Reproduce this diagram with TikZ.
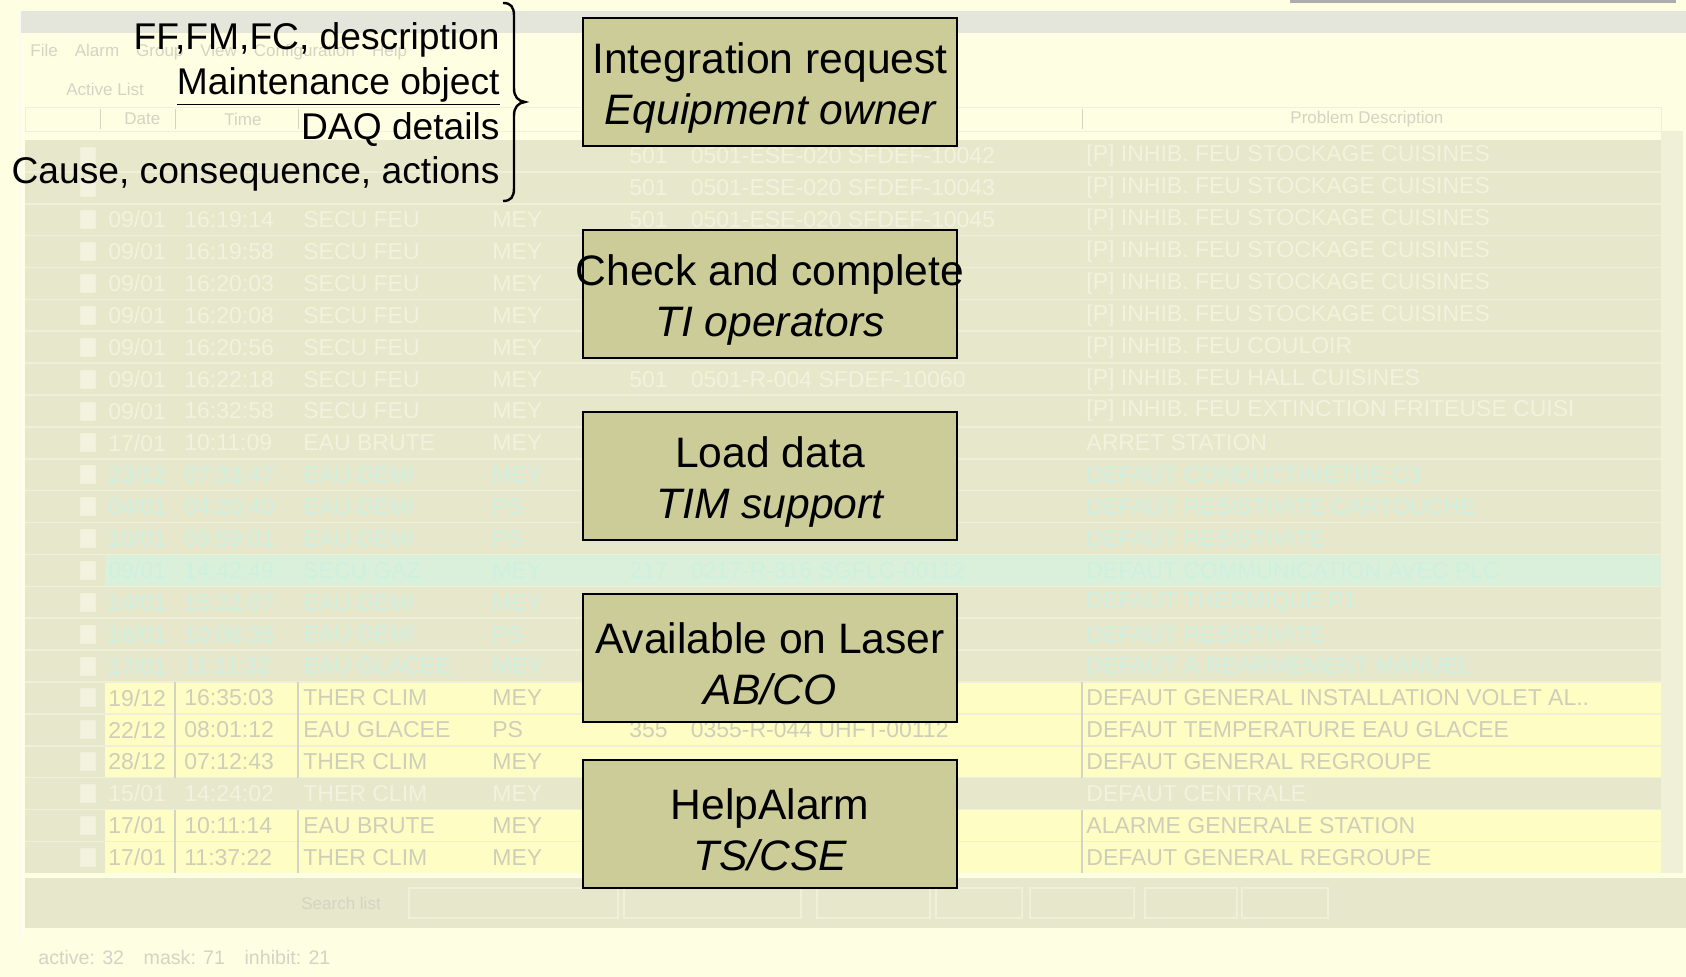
\documentclass[tikz,border=0pt]{standalone}
\usepackage{fontspec}
\setmainfont{Liberation Sans}
\definecolor{pagebg}{RGB}{254,254,226}
\definecolor{tablebg}{RGB}{231,231,204}
\definecolor{titlebg}{RGB}{228,230,220}
\definecolor{rowsep}{RGB}{240,240,216}
\definecolor{rowyellow}{RGB}{254,254,196}
\definecolor{rowcyan}{RGB}{218,240,218}
\definecolor{boxfill}{RGB}{204,204,153}
\definecolor{txtpale}{RGB}{242,242,222}
\definecolor{txtcyan}{RGB}{206,240,224}
\definecolor{txtgray}{RGB}{206,206,186}
\definecolor{faint}{RGB}{212,212,196}
\newcommand\bgfont{\fontsize{11.5}{13}\selectfont}
\newcommand\uifont{\fontsize{8.5}{10}\selectfont}
\newcommand\statfont{\fontsize{9.8}{11}\selectfont}
\newcommand\boxfont{\fontsize{21.3}{25.3}\selectfont}
\newcommand\sidefont{\fontsize{18.6}{22.4}\selectfont}
\newcommand\topstrut{\rule{0pt}{21.5pt}}
% row: index, date, time, system, site, num+code, description, colour
\newcommand\arow[8]{%
  \pgfmathsetmacro\ry{124.06+#1*31.88}%
  \node[bgtxt,text=#8] (r#1a) at (108,\ry) {#2};
  \node[bgtxt,text=#8] (r#1b) at (184,\ry) {#3};
  \node[bgtxt,text=#8] (r#1c) at (303,\ry) {#4};
  \node[bgtxt,text=#8] (r#1d) at (492,\ry) {#5};
  \node[bgtxt,text=#8] (r#1e) at (629,\ry) {#6};
  \node[bgtxt,text=#8] (r#1f) at (1086,\ry) {#7};
}
\begin{document}
\begin{tikzpicture}[x=0.5pt,y=-0.5pt,
  bgtxt/.style={anchor=west,inner sep=0pt,font=\bgfont},
  uitxt/.style={anchor=west,inner sep=0pt,font=\uifont,text=faint},
  stepbox/.style={draw=black,line width=1.2pt,fill=boxfill,minimum width=187pt,
    minimum height=64pt,inner sep=0pt,align=center,font=\boxfont},
  sidetext/.style={anchor=east,align=right,inner sep=0pt,font=\sidefont}]
\useasboundingbox (0,0) rectangle (1686,977);
% ---------- faded screenshot background ----------
\fill[pagebg] (0,0) rectangle (1686,977);
\fill[black!32] (1290,0) rectangle (1676,3);
\fill[titlebg] (20,11) rectangle (1686,33);
\draw[rowsep!80!black!10] (20,11) -- (20,940);
\node[uitxt] (menu) at (30,52) {File\quad Alarm\quad Group\quad View\quad Configuration\quad Help};
\node[uitxt] (tab) at (66,89) {Active List};
\draw[rowsep] (25,107) rectangle (1661,131);
\foreach \hx in {100,175,298,1082} {\draw[faint] (\hx,109) -- (\hx,129);}
\node[uitxt] (hdate) at (124,119) {Date};
\node[uitxt] (htime) at (224,119) {Time};
\node[uitxt] (hdesc) at (1290,119) {Problem Description};
% table body
\fill[tablebg] (25,140) rectangle (1661,873);
\fill[rowcyan] (105,554.4) rectangle (1661,586.3);
\fill[rowyellow] (105,682) rectangle (1661,777.6);
\fill[rowyellow] (105,809.5) rectangle (1661,873);
\foreach \i in {1,...,22} {
  \pgfmathsetmacro\rb{140+\i*31.88}
  \draw[rowsep,line width=0.8pt] (25,\rb) -- (1661,\rb);
}
\foreach \i in {1,...,23} {
  \pgfmathsetmacro\rc{124.06+\i*31.88}
  \draw[fill=txtpale,draw=rowsep] (80,\rc-9) rectangle (95,\rc+9);
}
\foreach \hx in {175,298,1082} {
  \draw[faint,line width=0.6pt] (\hx,682) -- (\hx,777.6);
  \draw[faint,line width=0.6pt] (\hx,809.5) -- (\hx,873);
}
\fill[rowsep] (1661,131) rectangle (1683,873);
\arow{1}{}{}{}{}{501\quad 0501-ESE-020 SFDEF-10042}{[P] INHIB. FEU STOCKAGE CUISINES}{txtpale}
\arow{2}{}{}{}{}{501\quad 0501-ESE-020 SFDEF-10043}{[P] INHIB. FEU STOCKAGE CUISINES}{txtpale}
\arow{3}{09/01}{16:19:14}{SECU FEU}{MEY}{501\quad 0501-ESE-020 SFDEF-10045}{[P] INHIB. FEU STOCKAGE CUISINES}{txtpale}
\arow{4}{09/01}{16:19:58}{SECU FEU}{MEY}{}{[P] INHIB. FEU STOCKAGE CUISINES}{txtpale}
\arow{5}{09/01}{16:20:03}{SECU FEU}{MEY}{}{[P] INHIB. FEU STOCKAGE CUISINES}{txtpale}
\arow{6}{09/01}{16:20:08}{SECU FEU}{MEY}{}{[P] INHIB. FEU STOCKAGE CUISINES}{txtpale}
\arow{7}{09/01}{16:20:56}{SECU FEU}{MEY}{}{[P] INHIB. FEU COULOIR}{txtpale}
\arow{8}{09/01}{16:22:18}{SECU FEU}{MEY}{501\quad 0501-R-004 SFDEF-10060}{[P] INHIB. FEU HALL CUISINES}{txtpale}
\arow{9}{09/01}{16:32:58}{SECU FEU}{MEY}{}{[P] INHIB. FEU EXTINCTION FRITEUSE CUISI}{txtpale}
\arow{10}{17/01}{10:11:09}{EAU BRUTE}{MEY}{}{ARRET STATION}{txtpale}
\arow{11}{23/12}{07:33:47}{EAU DEMI}{MEY}{}{DEFAUT CONDUCTIMETRE C3}{txtcyan}
\arow{12}{04/01}{04:20:40}{EAU DEMI}{PS}{}{DEFAUT RESISTIVITE CARTOUCHE}{txtcyan}
\arow{13}{10/01}{09:59:01}{EAU DEMI}{PS}{}{DEFAUT RESISTIVITE}{txtcyan}
\arow{14}{09/01}{14:42:49}{SECU GAZ}{MEY}{217\quad 0217-R-316 SGFLC-00112}{DEFAUT COMMUNICATION AVEC PLC}{txtcyan}
\arow{15}{14/01}{15:22:07}{EAU DEMI}{MEY}{}{DEFAUT THERMIQUE P1}{txtcyan}
\arow{16}{16/01}{10:06:35}{EAU DEMI}{PS}{}{DEFAUT RESISTIVITE}{txtcyan}
\arow{17}{17/01}{11:11:32}{EAU GLACEE}{MEY}{}{DEFAUT A REARMEMENT MANUEL}{txtcyan}
\arow{18}{19/12}{16:35:03}{THER CLIM}{MEY}{}{DEFAUT GENERAL INSTALLATION VOLET AL..}{txtgray}
\arow{19}{22/12}{08:01:12}{EAU GLACEE}{PS}{355\quad 0355-R-044 UHFT-00112}{DEFAUT TEMPERATURE EAU GLACEE}{txtgray}
\arow{20}{28/12}{07:12:43}{THER CLIM}{MEY}{}{DEFAUT GENERAL REGROUPE}{txtgray}
\arow{21}{15/01}{14:24:02}{THER CLIM}{MEY}{}{DEFAUT CENTRALE}{txtpale}
\arow{22}{17/01}{10:11:14}{EAU BRUTE}{MEY}{}{ALARME GENERALE STATION}{txtgray}
\arow{23}{17/01}{11:37:22}{THER CLIM}{MEY}{}{DEFAUT GENERAL REGROUPE}{txtgray}
% search bar and status line
\fill[tablebg] (25,878) rectangle (1686,928);
\node[uitxt] (search) at (301,903) {Search list};
\foreach \bx/\bw in {409/618,624/801,817/930,936/1022,1030/1134,1145/1237,1242/1328} {
  \draw[rowsep,line width=0.8pt] (\bx,888) rectangle (\bw,918);
}
\node[uitxt,font=\statfont] (status) at (38,957) {active: 32\quad mask: 71\quad inhibit: 21};
% ---------- diagram ----------
\node[sidetext] (side) at (500,107) {FF,FM,FC, description\\\underline{Maintenance object}\\DAQ details\\Cause, consequence, actions};
\draw[line width=1.2pt] (503,3) .. controls (511,3) and (514,7) .. (514,16) -- (514,88)
  .. controls (514,97) and (518,101) .. (525,102)
  .. controls (518,103) and (514,107) .. (514,116) -- (514,188)
  .. controls (514,197) and (511,201) .. (503,201);
\node[stepbox] (integ) at (770,82) {\makebox[0pt]{\topstrut Integration request}\\\makebox[0pt]{\itshape Equipment owner}};
\node[stepbox] (check) at (770,294) {\makebox[0pt]{\topstrut Check and complete}\\\makebox[0pt]{\itshape TI operators}};
\node[stepbox] (load) at (770,476) {\makebox[0pt]{\topstrut Load data}\\\makebox[0pt]{\itshape TIM support}};
\node[stepbox] (avail) at (770,658) {\makebox[0pt]{\topstrut Available on Laser}\\\makebox[0pt]{\itshape AB/CO}};
\node[stepbox] (help) at (770,824) {\makebox[0pt]{\topstrut HelpAlarm}\\\makebox[0pt]{\itshape TS/CSE}};
\end{tikzpicture}
\end{document}
